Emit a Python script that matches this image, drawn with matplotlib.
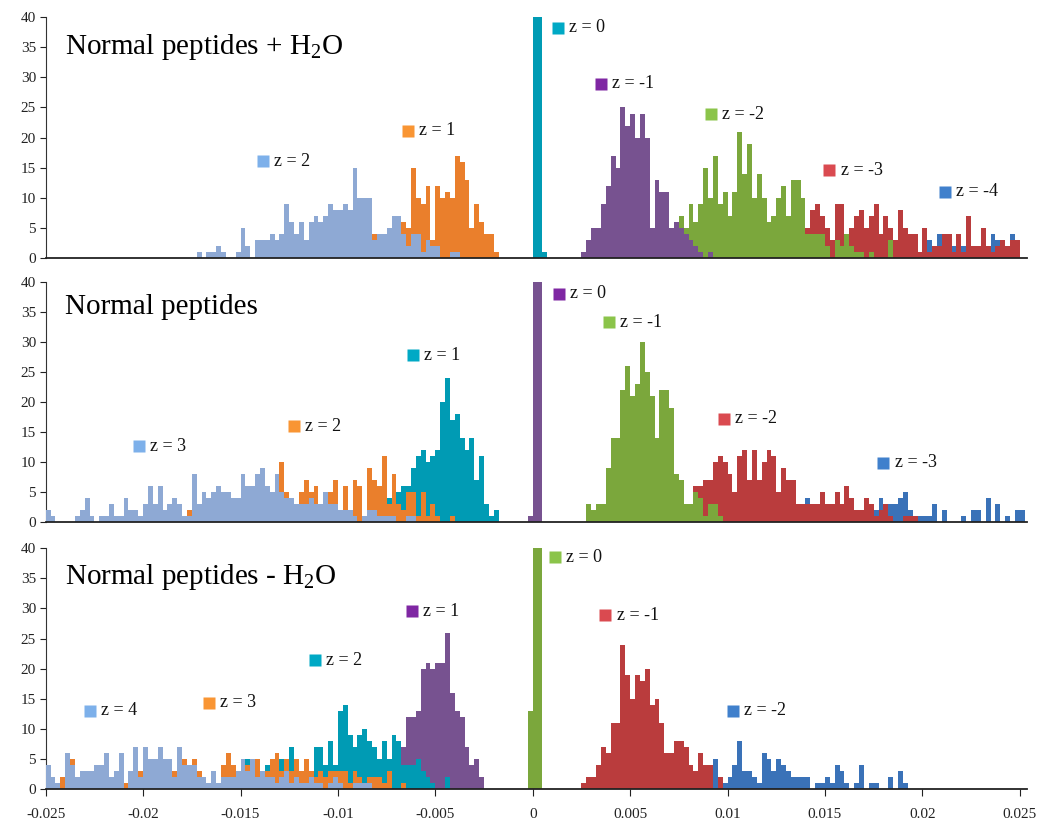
#!/usr/bin/env python3
import numpy as np # bin edges
import matplotlib
matplotlib.use("Agg")
import matplotlib.pyplot as plt # draw plots

# histogram bin width (mass error)
BIN = 0.00025

# ---------------- panel 1 : Normal peptides + H2O ----------------
top_z2_start = -0.01725
top_z2 = [1, 0, 1, 1, 2, 1, 0, 0, 1, 5, 2, 0, 3, 3, 3, 4, 3, 4, 9, 6, 4, 6, 3, 6,
          7, 6, 7, 9, 8, 8, 9, 8, 15, 10, 10, 10, 3, 4, 4, 5, 7, 7, 4, 2, 4, 4,
          1, 3, 2, 2, 0, 0, 1, 1]
top_z1_start = -0.00825
top_z1 = [4, 2, 3, 4, 5, 6, 6, 5, 15, 10, 9, 12, 3, 12, 10, 11, 10, 17, 16, 13,
          5, 9, 6, 4, 4, 1]
top_z0_start = 0.0
top_z0 = [40, 40, 1]
top_zm1_start = 0.0025
top_zm1 = [1, 3, 5, 5, 9, 12, 17, 15, 25, 22, 24, 20, 24, 20, 5, 13, 11, 11, 5,
           6, 5, 4, 3, 2, 1, 0, 1]
top_zm2_start = 0.0075
top_zm2 = [7, 5, 9, 6, 9, 15, 10, 17, 9, 11, 7, 11, 21, 14, 19, 10, 14, 10, 6, 7,
           10, 12, 7, 13, 13, 10, 4, 4, 4, 4, 2, 0, 3, 2, 4, 2, 1, 1, 0, 1, 0, 0,
           0, 3]
top_zm3_start = 0.014
top_zm3 = [5, 8, 9, 7, 5, 3, 9, 9, 3, 5, 7, 8, 5, 7, 9, 4, 7, 5, 3, 8, 5, 4, 4, 1,
           5, 1, 2, 2, 4, 4, 1, 4, 1, 7, 2, 2, 5, 2, 1, 2, 3, 2, 3, 3]
top_zm4_start = 0.0195
top_zm4 = [1, 1, 2, 3, 1, 4, 3, 2, 2, 1, 2, 2, 1, 1, 2, 1, 4, 3, 2, 2, 4, 2]

# ---------------- panel 2 : Normal peptides ----------------
mid_z3_start = -0.025
mid_z3 = [2, 1, 0, 0, 0, 0, 1, 2, 4, 1, 0, 1, 1, 3, 1, 1, 4, 2, 2, 1, 3, 6, 3, 6,
          2, 3, 4, 3, 1, 1, 8, 3, 5, 4, 5, 6, 5, 5, 4, 4, 8, 6, 6, 8, 9, 6, 5, 8,
          5, 4, 4, 3, 3, 3, 4, 3, 3, 5, 3, 3, 2, 2, 2, 1, 0, 1, 2, 2, 1, 1, 1, 1,
          0, 0, 1, 1]
mid_z2_start = -0.01775
mid_z2 = [2, 1, 1, 2, 2, 2, 3, 2, 3, 2, 3, 2, 3, 3, 4, 3, 4, 4, 5, 10, 5, 2, 2,
          5, 7, 5, 6, 2, 3, 5, 7, 2, 6, 2, 7, 6, 1, 9, 7, 6, 11, 3, 8, 3, 2, 5, 5,
          1, 5, 1, 3, 1, 0, 0, 1]
mid_z1_start = -0.00775
mid_z1 = [5, 4, 5, 5, 6, 6, 9, 11, 12, 10, 11, 12, 20, 24, 17, 18, 14, 12, 14,
          7, 11, 3, 1, 2]
mid_z0_start = -0.00025
mid_z0 = [1, 40, 40]
mid_zm1_start = 0.00275
mid_zm1 = [3, 2, 3, 3, 9, 14, 14, 22, 26, 21, 23, 30, 25, 21, 14, 22, 22, 19, 8,
           7, 3, 3, 5, 4, 1, 3, 3, 1]
mid_zm2_start = 0.00825
mid_zm2 = [6, 6, 7, 7, 10, 11, 10, 8, 5, 11, 12, 7, 12, 7, 10, 12, 11, 5, 9, 7, 7,
           3, 3, 3, 3, 3, 5, 3, 3, 5, 3, 6, 4, 2, 2, 4, 3, 1, 2, 3, 1, 0, 0, 1, 1,
           1]
mid_zm3_start = 0.014
mid_zm3 = [4, 3, 2, 2, 2, 3, 3, 2, 4, 3, 2, 2, 1, 2, 2, 4, 3, 3, 3, 4, 5, 2, 1,
           1, 1, 1, 3, 0, 2, 0, 0, 0, 1, 0, 2, 2, 0, 4, 0, 3, 0, 1, 0, 2, 2]

# ---------------- panel 3 : Normal peptides - H2O ----------------
bot_z4_start = -0.025
bot_z4 = [4, 2, 1, 0, 6, 4, 2, 3, 3, 3, 4, 4, 6, 2, 3, 6, 0, 3, 7, 2, 7, 5, 5, 7,
          5, 5, 2, 7, 4, 4, 4, 2, 2, 1, 3, 1, 2, 2, 2, 3, 5, 3, 5, 2, 3, 2, 2, 1,
          2, 3, 1, 2, 1, 1, 2, 1, 1, 0, 1, 2, 1, 0, 0, 1, 1, 1, 1]
bot_z3_start = -0.02425
bot_z3 = [2, 1, 5, 1, 1, 1, 1, 1, 1, 1, 1, 1, 1, 1, 1, 1, 3, 2, 2, 2, 2, 2, 2, 3,
          2, 5, 3, 5, 3, 2, 1, 2, 1, 4, 6, 4, 3, 3, 4, 5, 5, 3, 3, 5, 6, 3, 5, 3,
          5, 3, 5, 3, 2, 3, 2, 3, 3, 3, 3, 1, 3, 2, 1, 2, 2, 2, 1, 3, 0, 0, 1]
bot_z2_start = -0.01475
bot_z2 = [5, 3, 4, 3, 4, 3, 4, 5, 4, 7, 5, 3, 4, 3, 7, 7, 4, 8, 4, 13, 14, 9, 7,
          9, 10, 8, 7, 5, 8, 5, 9, 8, 4, 4, 4, 5, 3, 2, 1, 0, 0, 2]
bot_z1_start = -0.007
bot_z1 = [7, 7, 12, 12, 13, 20, 21, 20, 21, 21, 26, 16, 13, 12, 7, 4, 5, 2]
bot_z0_start = -0.00025
bot_z0 = [13, 40, 40]
bot_zm1_start = 0.0025
bot_zm1 = [1, 2, 2, 4, 7, 6, 11, 11, 24, 19, 15, 19, 18, 20, 14, 15, 11, 6, 6, 8,
           8, 7, 4, 3, 6, 4, 4, 0, 2]
bot_zm2_start = 0.00925
bot_zm2 = [5, 0, 1, 2, 4, 8, 3, 3, 2, 1, 6, 5, 3, 5, 4, 3, 2, 2, 2, 2, 0, 1, 1, 2,
           1, 4, 3, 1, 0, 1, 4, 0, 1, 1, 0, 0, 2, 0, 3, 1]

# bar colour and (brighter) legend square colour for each hue
LBLUE = ("#8EA9D4", "#7DB0EA")
ORANGE = ("#EA7F2C", "#F99533")
TEAL = ("#009BB4", "#00A9C5")
PURPLE = ("#775290", "#7F27A3")
GREEN = ("#7BA73C", "#8BC44A")
RED = ("#BA3C3D", "#DA4A50")
BLUE = ("#3A72B8", "#4080CC")

# (z, start, counts, colours, label x, label y)
panels = [
    ("Normal peptides + H$_2$O", 35.0, [
        (2, top_z2_start, top_z2, LBLUE, -0.01386, 16.1),
        (1, top_z1_start, top_z1, ORANGE, -0.00642, 21.1),
        (0, top_z0_start, top_z0, TEAL, 0.0013, 38.2),
        (-1, top_zm1_start, top_zm1, PURPLE, 0.0035, 28.9),
        (-2, top_zm2_start, top_zm2, GREEN, 0.00915, 23.9),
        (-3, top_zm3_start, top_zm3, RED, 0.01523, 14.6),
        (-4, top_zm4_start, top_zm4, BLUE, 0.02115, 11.0)]),
    ("Normal peptides", 35.8, [
        (3, mid_z3_start, mid_z3, LBLUE, -0.0202, 12.6),
        (2, mid_z2_start, mid_z2, ORANGE, -0.01226, 16.0),
        (1, mid_z1_start, mid_z1, TEAL, -0.00617, 27.8),
        (0, mid_z0_start, mid_z0, PURPLE, 0.00134, 38.1),
        (-1, mid_zm1_start, mid_zm1, GREEN, 0.0039, 33.3),
        (-2, mid_zm2_start, mid_zm2, RED, 0.0098, 17.2),
        (-3, mid_zm3_start, mid_zm3, BLUE, 0.018, 9.9)]),
    ("Normal peptides - H$_2$O", 35.3, [
        (4, bot_z4_start, bot_z4, LBLUE, -0.02273, 13.0),
        (3, bot_z3_start, bot_z3, ORANGE, -0.01663, 14.3),
        (2, bot_z2_start, bot_z2, TEAL, -0.01117, 21.4),
        (1, bot_z1_start, bot_z1, PURPLE, -0.0062, 29.5),
        (0, bot_z0_start, bot_z0, GREEN, 0.00115, 38.5),
        (-1, bot_zm1_start, bot_zm1, RED, 0.00373, 28.9),
        (-2, bot_zm2_start, bot_zm2, BLUE, 0.01027, 13.0)]),
]

xticks = [-0.025, -0.02, -0.015, -0.01, -0.005, 0, 0.005, 0.01, 0.015, 0.02, 0.025]
xtick_labels = ["-0.025", "-0.02", "-0.015", "-0.01", "-0.005", "0", "0.005",
                "0.01", "0.015", "0.02", "0.025"]


def draw_panel(ax, title, title_y, series, is_bottom):
    for z, start, counts, cols, lx, ly in series:
        edges = start + BIN * np.arange(len(counts) + 1)
        # higher z drawn in front
        ax.stairs(counts, edges, fill=True, color=cols[0], linewidth=0,
                  zorder=10 + z)
        ax.plot([lx], [ly], marker='s', ms=8, color=cols[1], mec='none',
                zorder=30)
        ax.annotate(f"z = {z}", (lx, ly), xytext=(8, 0),
                    textcoords='offset points', va='center', ha='left',
                    fontsize=13, color='#111111', zorder=30)

    ax.text(-0.024, title_y, title, fontsize=21, va='center', ha='left',
            color='black')

    ax.set_xlim(-0.025, 0.02535)
    ax.set_ylim(0, 40)
    ax.set_yticks(range(0, 41, 5))
    ax.tick_params(axis='y', direction='out', length=4, labelsize=11,
                   colors='#222222', pad=3)
    for s in ('top', 'right'):
        ax.spines[s].set_visible(False)
    ax.spines['left'].set_color('#333333')
    ax.spines['bottom'].set_color('#222222')
    ax.spines['bottom'].set_linewidth(1.3)
    ax.spines['bottom'].set_zorder(40)
    if is_bottom:
        ax.set_xticks(xticks)
        ax.set_xticklabels(xtick_labels)
        ax.tick_params(axis='x', direction='out', length=5, labelsize=11,
                       pad=9, colors='#222222')
    else:
        ax.set_xticks([])


def main():
    plt.rcParams['font.family'] = ['Liberation Serif', 'DejaVu Serif']
    plt.rcParams['mathtext.fontset'] = 'custom'
    plt.rcParams['mathtext.rm'] = 'Liberation Serif'
    plt.rcParams['mathtext.it'] = 'Liberation Serif:italic'

    fig = plt.figure(figsize=(10.48, 8.3), dpi=100)
    boxes = [[0.0436, 0.689, 0.936, 0.2904],
             [0.0436, 0.3711, 0.936, 0.289],
             [0.0436, 0.0494, 0.936, 0.290]]
    for i, (title, ty, series) in enumerate(panels):
        ax = fig.add_axes(boxes[i])
        draw_panel(ax, title, ty, series, i == len(panels) - 1)

    fig.savefig("out.png", dpi=100)
    return


if __name__ == "__main__":
    main()
